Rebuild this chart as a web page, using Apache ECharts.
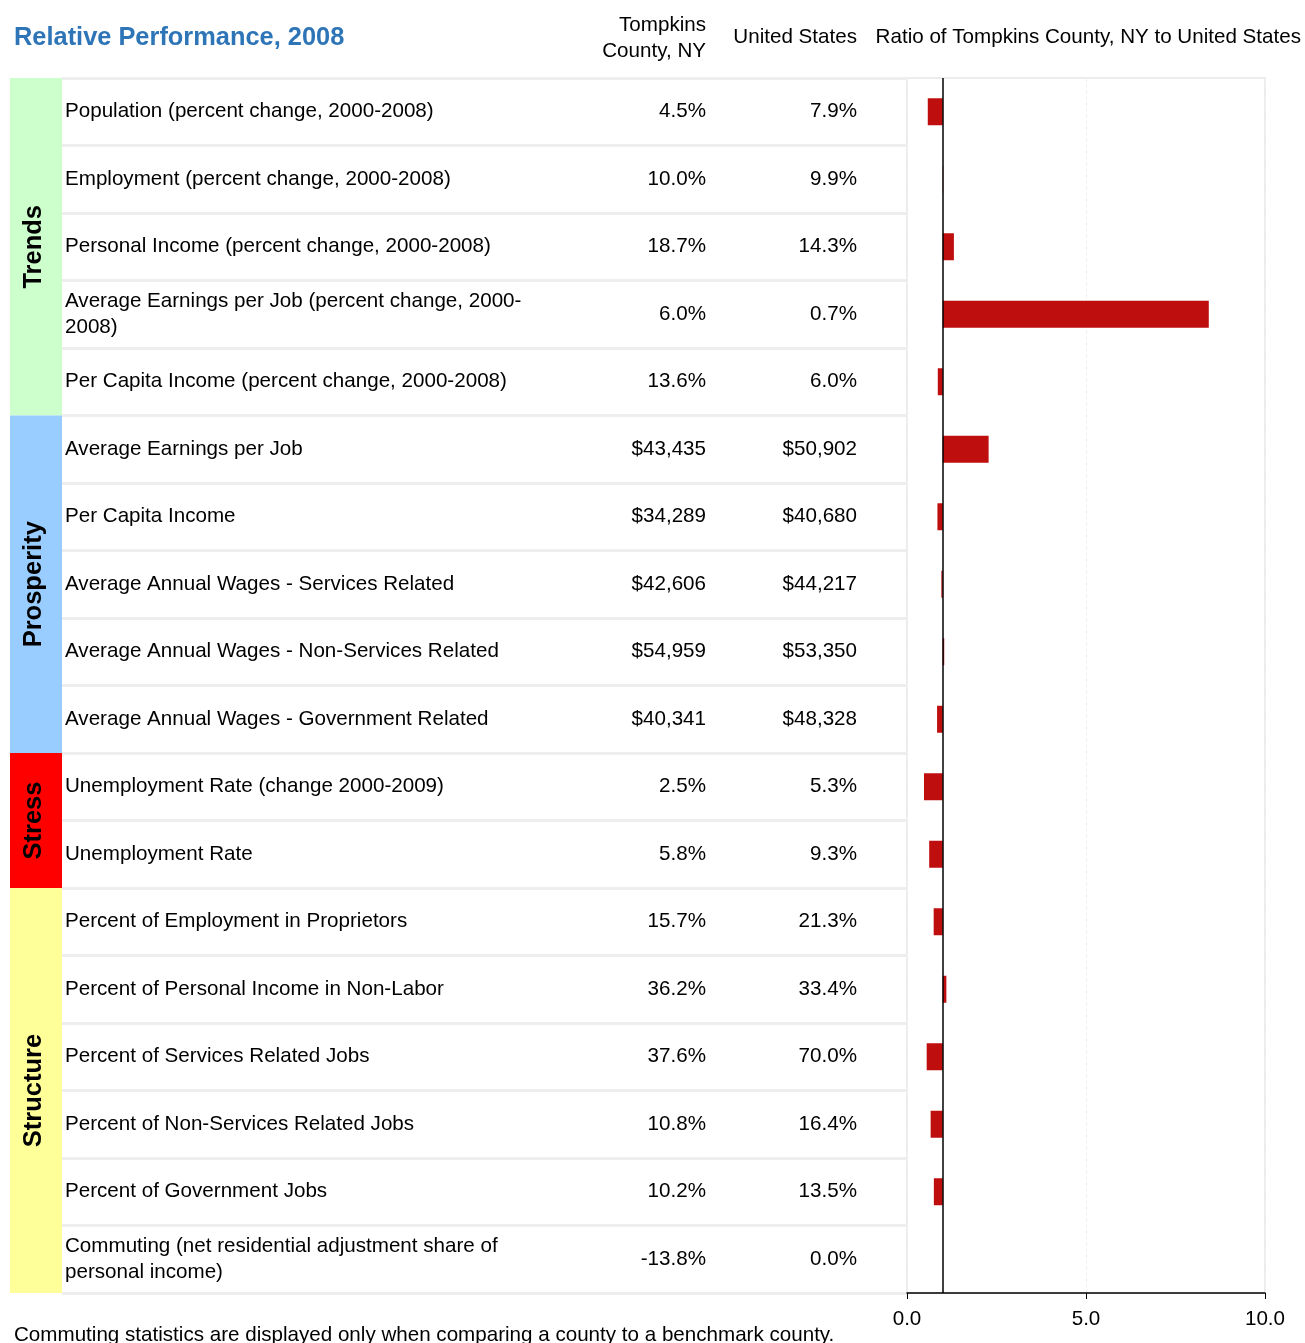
<!DOCTYPE html>
<html><head><meta charset="utf-8">
<script src="https://cdn.jsdelivr.net/npm/echarts@6/dist/echarts.min.js"></script>
<style>html,body{margin:0;padding:0;background:#fff}#c{width:1305px;height:1343px}</style>
</head><body><div id="c"></div>
<script>
const categories = [
  'Population (percent change, 2000-2008)',
  'Employment (percent change, 2000-2008)',
  'Personal Income (percent change, 2000-2008)',
  'Average Earnings per Job (percent change, 2000-\n2008)',
  'Per Capita Income (percent change, 2000-2008)',
  'Average Earnings per Job',
  'Per Capita Income',
  'Average Annual Wages - Services Related',
  'Average Annual Wages - Non-Services Related',
  'Average Annual Wages - Government Related',
  'Unemployment Rate (change 2000-2009)',
  'Unemployment Rate',
  'Percent of Employment in Proprietors',
  'Percent of Personal Income in Non-Labor',
  'Percent of Services Related Jobs',
  'Percent of Non-Services Related Jobs',
  'Percent of Government Jobs',
  'Commuting (net residential adjustment share of\npersonal income)'
];
const tompkinsValues = ['4.5%','10.0%','18.7%','6.0%','13.6%','$43,435','$34,289','$42,606','$54,959','$40,341','2.5%','5.8%','15.7%','36.2%','37.6%','10.8%','10.2%','-13.8%'];
const usValues = ['7.9%','9.9%','14.3%','0.7%','6.0%','$50,902','$40,680','$44,217','$53,350','$48,328','5.3%','9.3%','21.3%','33.4%','70.0%','16.4%','13.5%','0.0%'];
const ratioValues = [0.58,1.01,1.31,8.43,0.86,2.28,0.85,0.96,1.04,0.84,0.475,0.62,0.745,1.10,0.55,0.66,0.75,null];
const groupNames = ['Trends','Prosperity','Stress','Structure'];
const groupStart = [0,5,10,12];
const groupEnd = [4,9,11,17];
const xTickLabels = ['0.0','5.0','10.0'];
const baselineRatio = 1;

const FONT = '"Liberation Sans", Arial, Helvetica, sans-serif';
const FS = 20.6;
const groupColors = ['#CCFFCC','#99CCFF','#FF0000','#FFFF99'];
const BAR_COLOR = '#BF0E0E';

function catAxis(gridIndex, extra) {
  return Object.assign({
    type: 'category', gridIndex: gridIndex, data: categories, inverse: true,
    axisLine: {show: false}, axisTick: {show: false},
    axisLabel: {show: false}, splitLine: {show: false}, splitArea: {show: false}
  }, extra || {});
}
const labelBase = {show: true, interval: 0, fontSize: FS, color: '#000', fontFamily: FONT};

const chart = echarts.init(document.getElementById('c'), null, {renderer: 'canvas'});
chart.setOption({
  backgroundColor: '#fff',
  animation: false,
  grid: [
    {left: 907, top: 78, width: 358, height: 1215, show: true, borderColor: '#ececec', borderWidth: 2, backgroundColor: 'transparent', outerBoundsMode: 'none', containLabel: false},
    {left: 62, top: 78, width: 845, height: 1215, outerBoundsMode: 'none', containLabel: false},
    {left: 10, top: 78, width: 52, height: 1215, outerBoundsMode: 'none', containLabel: false}
  ],
  xAxis: [
    {gridIndex: 0, type: 'value', min: 0, max: 10, interval: 5,
     axisLine: {show: true, lineStyle: {color: '#000', width: 1.5}},
     axisTick: {show: true, length: 6, lineStyle: {color: '#000', width: 1}},
     axisLabel: {fontSize: FS, color: '#000', fontFamily: FONT, margin: 16,
       formatter: function (v) { return xTickLabels[Math.round(v / 5)]; }},
     splitLine: {show: true, lineStyle: {color: '#f0f0f0', type: 'dashed', width: 1}}},
    {gridIndex: 1, type: 'value', min: 0, max: 1, show: false},
    {gridIndex: 2, type: 'value', min: 0, max: 1, show: false}
  ],
  yAxis: [
    catAxis(0),
    catAxis(0, {position: 'left', axisLabel: Object.assign({}, labelBase, {margin: 50, align: 'right', padding: [4, 0, 0, 0],
      formatter: function (v, i) { return usValues[i]; }})}),
    catAxis(0, {position: 'left', axisLabel: Object.assign({}, labelBase, {margin: 201, align: 'right', padding: [4, 0, 0, 0],
      formatter: function (v, i) { return tompkinsValues[i]; }})}),
    catAxis(0, {position: 'left', axisLabel: Object.assign({}, labelBase, {margin: 842, align: 'left', lineHeight: 26})}),
    catAxis(1, {splitLine: {show: true, lineStyle: {color: '#eeeeee', width: 3}}}),
    catAxis(2)
  ],
  series: [
    {
      type: 'custom', xAxisIndex: 0, yAxisIndex: 0,
      encode: {x: 0, y: 1},
      data: ratioValues.map(function (v, i) { return v == null ? null : [v, i]; }).filter(Boolean),
      renderItem: function (params, api) {
        const v = api.value(0), i = api.value(1);
        const a = api.coord([baselineRatio, i]), b = api.coord([v, i]);
        const h = api.size([0, 1])[1] * 0.4;
        return {type: 'rect',
          shape: {x: Math.min(a[0], b[0]), y: a[1] - h / 2, width: Math.abs(b[0] - a[0]), height: h},
          style: {fill: BAR_COLOR}};
      },
      z: 3
    },
    {
      type: 'scatter', xAxisIndex: 0, yAxisIndex: 0, data: [], silent: true,
      markLine: {silent: true, symbol: ['none', 'none'], label: {show: false},
        lineStyle: {color: '#000', width: 1.5, type: 'solid'},
        data: [{xAxis: baselineRatio}]},
      z: 4
    },
    {
      type: 'custom', xAxisIndex: 2, yAxisIndex: 5,
      encode: {y: [0, 1]},
      data: groupNames.map(function (n, k) { return [groupStart[k], groupEnd[k], k]; }),
      renderItem: function (params, api) {
        const s = api.value(0), e = api.value(1), k = api.value(2);
        const p0 = api.coord([0, s]), p1 = api.coord([1, e]);
        const bh = api.size([0, 1])[1];
        const y0 = p0[1] - bh / 2, y1 = p1[1] + bh / 2;
        return {type: 'group', children: [
          {type: 'rect', shape: {x: p0[0], y: y0, width: p1[0] - p0[0], height: y1 - y0}, style: {fill: groupColors[k]}},
          {type: 'text', x: (p0[0] + p1[0]) / 2 - 2, y: (y0 + y1) / 2, rotation: Math.PI / 2,
           style: {text: groupNames[k], fill: '#000', font: 'bold 25.5px ' + FONT, align: 'center', verticalAlign: 'middle'}}
        ]};
      }
    }
  ],
  graphic: [
    {type: 'text', x: 14, y: 38, style: {text: 'Relative Performance, 2008', font: 'bold 25.4px ' + FONT, fill: '#2E75B8', verticalAlign: 'middle'}},
    {type: 'text', x: 706, y: 38, style: {text: 'Tompkins\nCounty, NY', font: FS + 'px ' + FONT, fill: '#000', align: 'right', verticalAlign: 'middle', lineHeight: 26}},
    {type: 'text', x: 857, y: 37, style: {text: 'United States', font: FS + 'px ' + FONT, fill: '#000', align: 'right', verticalAlign: 'middle'}},
    {type: 'text', x: 1301, y: 37, style: {text: 'Ratio of Tompkins County, NY to United States', font: FS + 'px ' + FONT, fill: '#000', align: 'right', verticalAlign: 'middle'}},
    {type: 'text', x: 14, y: 1335, style: {text: 'Commuting statistics are displayed only when comparing a county to a benchmark county.', font: FS + 'px ' + FONT, fill: '#000', verticalAlign: 'middle'}}
  ]
});
</script></body></html>
